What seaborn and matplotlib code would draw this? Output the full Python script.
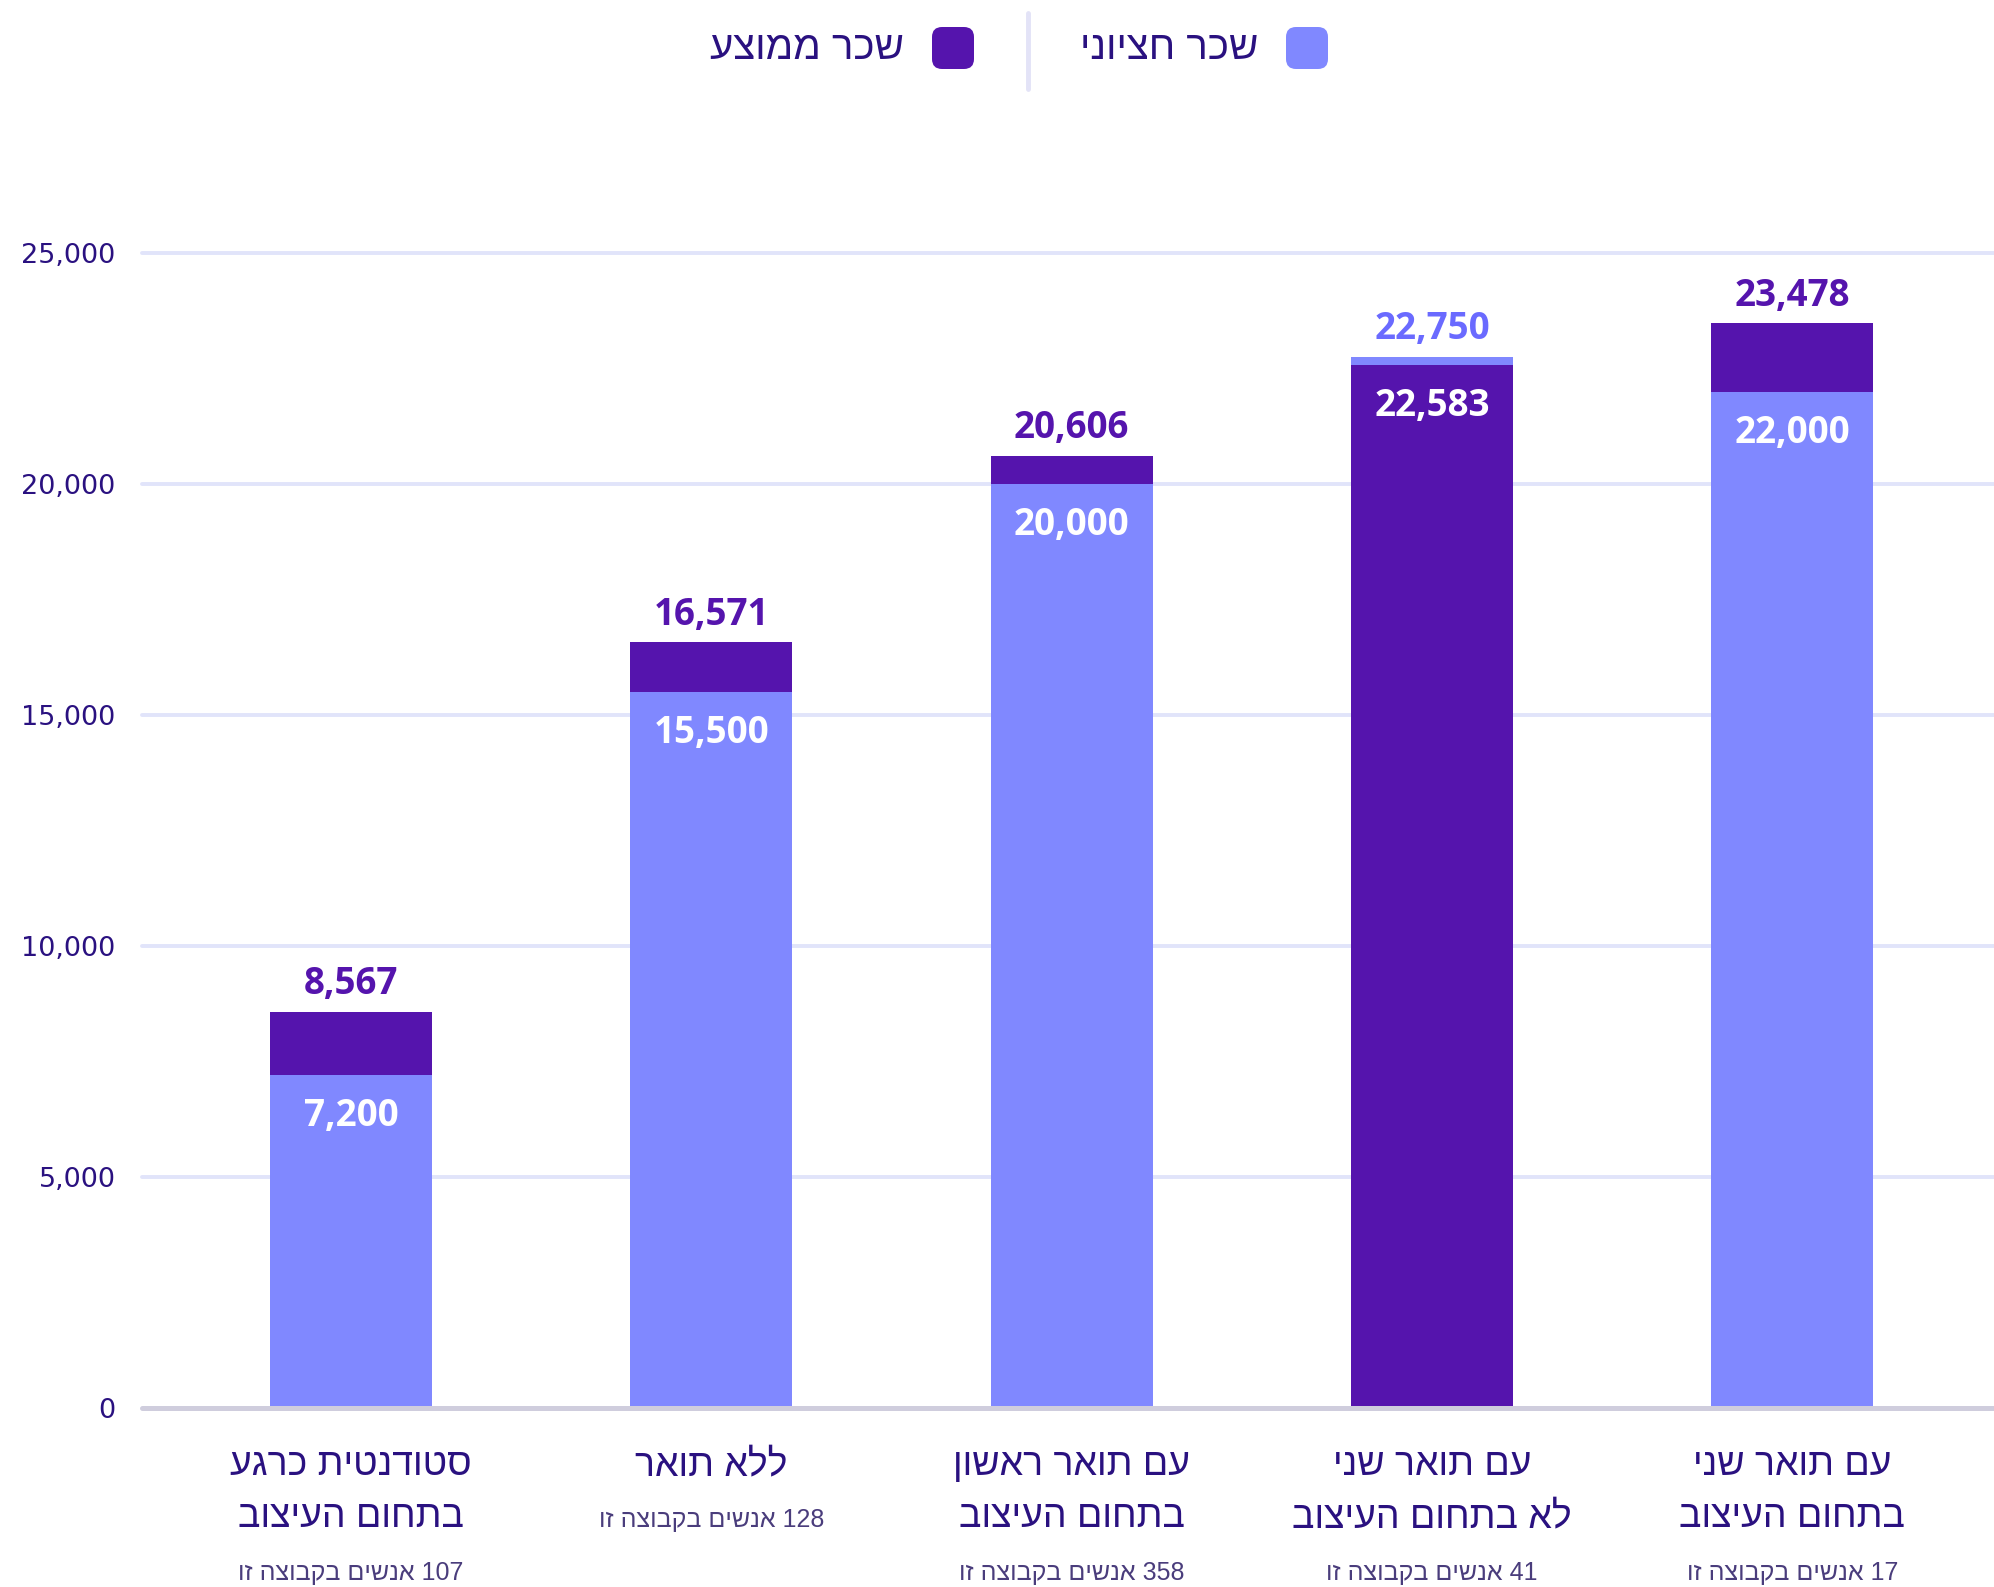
import pandas as pd
import matplotlib.pyplot as plt
import seaborn as sns
from matplotlib.patches import FancyBboxPatch

# ── Data ─────────────────────────────────────────────
categories = [
    'סטודנטית כרגע\nבתחום העיצוב',
    'ללא תואר',
    'עם תואר ראשון\nבתחום העיצוב',
    'עם תואר שני\nלא בתחום העיצוב',
    'עם תואר שני\nבתחום העיצוב',
]
group_sizes = [107, 128, 358, 41, 17]
median_salary = [7200, 15500, 20000, 22750, 22000]
mean_salary = [8567, 16571, 20606, 22583, 23478]
y_ticks = [0, 5000, 10000, 15000, 20000, 25000]
legend_labels = ['שכר חציוני', 'שכר ממוצע']

LIGHT = '#8088FF'
DARK = '#5514AD'
LIGHT_TXT = '#6A6AFF'
NAVY = '#2A1180'
GREY_TXT = '#4A3D7C'
GRID = '#E1E4FA'

HEB = ['Liberation Sans Narrow', 'Liberation Sans', 'DejaVu Sans']
NUM = ['Open Sans', 'DejaVu Sans']


def rtl(s):
    # matplotlib draws left to right, so flip the Hebrew words by hand
    lines = []
    for line in s.split('\n'):
        out = []
        for w in reversed(line.split(' ')):
            if any('\u0590' <= c <= '\u05FF' for c in w):
                out.append(w[::-1])
            else:
                out.append(w)
        lines.append(' '.join(out))
    return '\n'.join(lines)


df = pd.DataFrame({
    'cat': [str(i) for i in range(len(categories))],
    'median': median_salary,
    'mean': mean_salary,
})
df['back'] = df[['median', 'mean']].max(axis=1)
df['front'] = df[['median', 'mean']].min(axis=1)
df['back_is_mean'] = df['mean'] >= df['median']
back_colors = [DARK if m else LIGHT for m in df['back_is_mean']]
front_colors = [LIGHT if m else DARK for m in df['back_is_mean']]

sns.set_style('white')

W, H = 1994, 1587
fig = plt.figure(figsize=(W / 100, H / 100), dpi=100)
ax = fig.add_axes([142 / W, 1 - 1408 / H, 1 - 142 / W, (1408 - 253) / H])

sns.barplot(data=df, x='cat', y='back', hue='cat', palette=back_colors,
            dodge=False, legend=False, width=0.45, saturation=1, linewidth=0,
            ax=ax, zorder=2)
sns.barplot(data=df, x='cat', y='front', hue='cat', palette=front_colors,
            dodge=False, legend=False, width=0.45, saturation=1, linewidth=0,
            ax=ax, zorder=3)

ax.set_xlim(-0.58, 4.56)
ax.set_ylim(0, 25000)
for s in ax.spines.values():
    s.set_visible(False)

for t in y_ticks[1:]:
    ax.axhline(t, color=GRID, lw=2.8, zorder=1, clip_on=False)
ax.axhline(0, color='#CFCDDD', lw=3.6, zorder=4, clip_on=False)

ax.set_yticks(y_ticks)
ax.set_yticklabels([f'{t:,}' for t in y_ticks], fontsize=19.5, color=NAVY,
                   family=['DejaVu Sans'])
ax.tick_params(axis='y', length=0, pad=19)
ax.set_xticks([])
ax.set_xlabel('')
ax.set_ylabel('')

# value labels
for i, row in df.iterrows():
    top_color = DARK if row['back_is_mean'] else LIGHT_TXT
    ax.annotate(f"{row['back']:,}", xy=(i, row['back']), xytext=(0, 20),
                textcoords='offset points', ha='center', va='center',
                fontsize=26.5, fontweight='bold', color=top_color,
                family=NUM, zorder=6)
    ax.annotate(f"{row['front']:,}", xy=(i, row['front']), xytext=(0, -29.5),
                textcoords='offset points', ha='center', va='center',
                fontsize=26.5, fontweight='bold', color='white',
                family=NUM, zorder=6)

# category labels under the axis
for i, (cat, n) in enumerate(zip(categories, group_sizes)):
    lines = cat.split('\n')
    for k, line in enumerate(lines):
        ax.annotate(rtl(line), xy=(i, 0), xycoords=('data', 'axes fraction'),
                    xytext=(0, -41 - 37.5 * k), textcoords='offset points',
                    ha='center', va='center', fontsize=27, color=NAVY,
                    family=HEB, annotation_clip=False)
    off = -119 if len(lines) > 1 else -81
    ax.annotate(rtl(f'{n} אנשים בקבוצה זו'), xy=(i, 0),
                xycoords=('data', 'axes fraction'), xytext=(0, off),
                textcoords='offset points', ha='center', va='center',
                fontsize=18, color=GREY_TXT, family=HEB, annotation_clip=False)

# legend (pixel overlay, RTL: square on the right of the text)
lax = fig.add_axes([0, 0, 1, 1], zorder=10)
lax.set_xlim(0, W)
lax.set_ylim(H, 0)
lax.axis('off')
lax.patch.set_alpha(0)

legend_items = [(legend_labels[0], LIGHT, 1286), (legend_labels[1], DARK, 932)]
for label, color, x0 in legend_items:
    lax.add_patch(FancyBboxPatch((x0, 27), 42, 42,
                                 boxstyle='round,pad=0,rounding_size=10',
                                 fc=color, ec='none'))
    lax.text(x0 - 28, 48, rtl(label), ha='right', va='center',
             fontsize=29, color=NAVY, family=HEB)
lax.plot([1028, 1028], [13, 89], color='#E3E3F7', lw=3.5)

fig.savefig('out.png', dpi=100)
